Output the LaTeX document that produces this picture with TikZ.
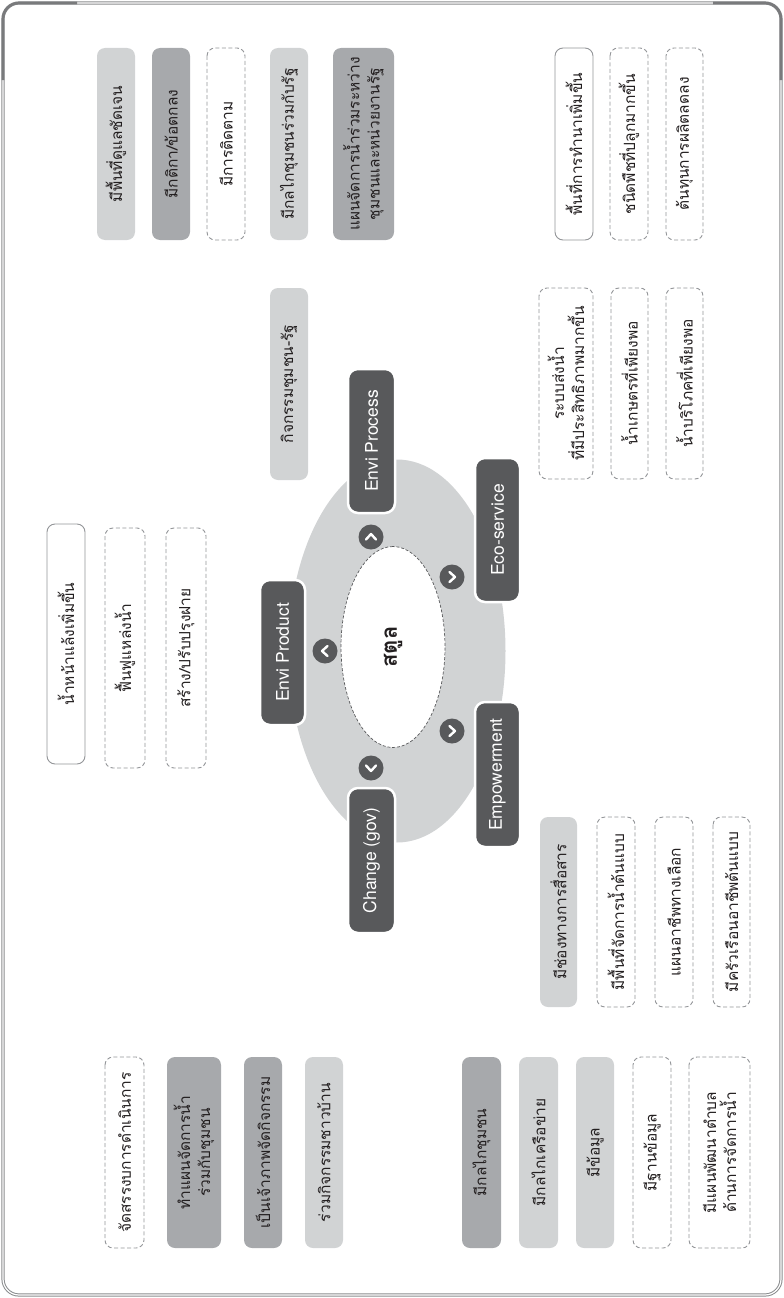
\documentclass[tikz,border=0pt]{standalone}
\usepackage{fontspec}
\setmainfont{TeX Gyre Heros}
\newfontfamily\thai[Script=Thai]{Loma}
\usetikzlibrary{shapes.geometric}
\definecolor{lightg}{HTML}{D1D3D4}
\definecolor{medg}{HTML}{A7A9AC}
\definecolor{darkg}{HTML}{58595B}
\definecolor{lineg}{HTML}{939598}
\definecolor{txt}{HTML}{231F20}
\definecolor{framec}{HTML}{8A8C8E}
\tikzset{
  tb/.style={rotate=90, rounded corners=8pt, inner sep=0pt, align=center,
    text=txt, font=\thai\fontsize{15.5}{20}\selectfont},
  lightbox/.style={tb, fill=lightg},
  medbox/.style={tb, fill=medg},
  dashbox/.style={tb, draw=lineg, line width=0.9pt, dash pattern=on 4pt off 2.5pt, fill=white},
  solidbox/.style={tb, draw=lineg, line width=0.9pt, fill=white},
  darkbox/.style={rotate=90, rounded corners=10pt, inner sep=0pt, fill=darkg, draw=white,
    line width=2.5pt, text=white, font=\fontsize{17.5}{20}\selectfont},
  circ/.style={circle, fill=darkg, minimum size=25pt, inner sep=0pt},
  chev/.style={white, line width=2.4pt, line cap=round, line join=round}
}
\newcommand\bx[7]{\node[#2, minimum width={(#6-#5)*1pt}, minimum height={(#4-#3)*1pt}] (#1) at ({(#3+#4)/2},{(#5+#6)/2}) {#7};}
\begin{document}
\begin{tikzpicture}[x=1pt,y=-1pt]
\useasboundingbox (0,0) rectangle (784,1298);
% frame
\draw[framec, line width=1pt, double=white, double distance=1.2pt, rounded corners=16pt] (3,3) rectangle (781,1295);
\draw[darkg!80, line width=2.6pt, rounded corners=16pt] (3,80) -- (3,3) -- (77,3);
\draw[darkg!80, line width=2.6pt, rounded corners=16pt] (713,3) -- (781,3) -- (781,80);

% top group
\bx{a1}{lightbox}{97}{135}{48}{240}{มีพื้นที่ดูแลชัดเจน}
\bx{a2}{medbox}{152}{190}{48}{240}{มีกติกา/ข้อตกลง}
\bx{a3}{dashbox}{207}{245}{48}{240}{มีการติดตาม}
\bx{a4}{lightbox}{270}{308}{48}{240}{มีกลไกชุมชนร่วมกับรัฐ}
\bx{a5}{medbox}{333}{394}{48}{240}{แผนจัดการน้ำร่วมระหว่าง\\ชุมชนและหน่วยงานรัฐ}
\bx{b1}{solidbox}{555}{593}{48}{240}{พื้นที่การทำนาเพิ่มขึ้น}
\bx{b2}{dashbox}{610}{648}{48}{240}{ชนิดพืชที่ปลูกมากขึ้น}
\bx{b3}{dashbox}{666}{703}{48}{240}{ต้นทุนการผลิตลดลง}

% middle
\bx{c1}{lightbox}{270}{308}{288}{480}{กิจกรรมชุมชน-รัฐ}
\bx{d1}{dashbox}{539}{593}{288}{479}{ระบบส่งน้ำ\\ที่มีประสิทธิภาพมากขึ้น}
\bx{d2}{dashbox}{611}{648}{288}{479}{น้ำเกษตรที่เพียงพอ}
\bx{d3}{dashbox}{666}{703}{288}{479}{น้ำบริโภคที่เพียงพอ}

\bx{e1}{solidbox}{47}{85}{524}{764}{น้ำหน้าแล้งเพิ่มขึ้น}
\bx{e2}{dashbox}{105}{145}{528}{768}{ฟื้นฟูแหล่งน้ำ}
\bx{e3}{dashbox}{166}{206}{528}{768}{สร้าง/ปรับปรุงฝาย}

\bx{f1}{lightbox}{540}{577}{817}{1007}{มีช่องทางการสื่อสาร}
\bx{f2}{dashbox}{597}{635}{817}{1007}{มีพื้นที่จัดการน้ำต้นแบบ}
\bx{f3}{dashbox}{655}{693}{817}{1007}{แผนอาชีพทางเลือก}
\bx{f4}{dashbox}{713}{750}{817}{1007}{มีครัวเรือนอาชีพต้นแบบ}

% bottom
\bx{g1}{dashbox}{105}{144}{1057}{1248}{จัดสรรงบการดำเนินการ}
\bx{g2}{medbox}{167}{221}{1057}{1248}{ทำแผนจัดการน้ำ\\ร่วมกับชุมชน}
\bx{g3}{medbox}{244}{282}{1057}{1248}{เป็นเจ้าภาพจัดกิจกรรม}
\bx{g4}{lightbox}{305}{343}{1057}{1248}{ร่วมกิจกรรมชาวบ้าน}
\bx{h1}{medbox}{462}{501}{1057}{1248}{มีกลไกชุมชน}
\bx{h2}{lightbox}{519}{558}{1057}{1248}{มีกลไกเครือข่าย}
\bx{h3}{lightbox}{576}{614}{1057}{1248}{มีข้อมูล}
\bx{h4}{dashbox}{633}{671}{1057}{1248}{มีฐานข้อมูล}
\bx{h5}{dashbox}{689}{750}{1057}{1248}{มีแผนพัฒนาตำบล\\ด้านการจัดการน้ำ}

% centre
\node[ellipse, fill=lightg, minimum width=217pt, minimum height=383pt, inner sep=0pt] (outer) at (397,651) {};
\node[ellipse, rotate=90, fill=white, draw=darkg, line width=0.7pt, dash pattern=on 3pt off 1.8pt,
  minimum width=201pt, minimum height=104pt, inner sep=0pt, text=txt,
  font=\thai\bfseries\fontsize{22}{24}\selectfont] (inner) at (393,647) {สตูล};

% dark labels
\bx{p1}{darkbox}{348}{395}{369}{513}{Envi Process}
\bx{p2}{darkbox}{475}{520}{458}{602}{Eco-service}
\bx{p3}{darkbox}{260}{305}{580}{725}{Envi Product}
\bx{p4}{darkbox}{475}{520}{702}{847}{Empowerment}
\bx{p5}{darkbox}{348}{395}{788}{933}{Change (gov)}

% chevron badges
\node[circ] (k1) at (371,537) {};
\node[circ] (k2) at (452,577) {};
\node[circ] (k3) at (325,651) {};
\node[circ] (k4) at (452,731) {};
\node[circ] (k5) at (371,768) {};
\draw[chev] ([shift={(-5,2.5)}]k1.center) -- ([shift={(0,-3)}]k1.center) -- ([shift={(5,2.5)}]k1.center);
\draw[chev] ([shift={(-2.5,-5)}]k2.center) -- ([shift={(3,0)}]k2.center) -- ([shift={(-2.5,5)}]k2.center);
\draw[chev] ([shift={(2.5,-5)}]k3.center) -- ([shift={(-3,0)}]k3.center) -- ([shift={(2.5,5)}]k3.center);
\draw[chev] ([shift={(-2.5,-5)}]k4.center) -- ([shift={(3,0)}]k4.center) -- ([shift={(-2.5,5)}]k4.center);
\draw[chev] ([shift={(-5,-2.5)}]k5.center) -- ([shift={(0,3)}]k5.center) -- ([shift={(5,-2.5)}]k5.center);
\end{tikzpicture}
\end{document}
